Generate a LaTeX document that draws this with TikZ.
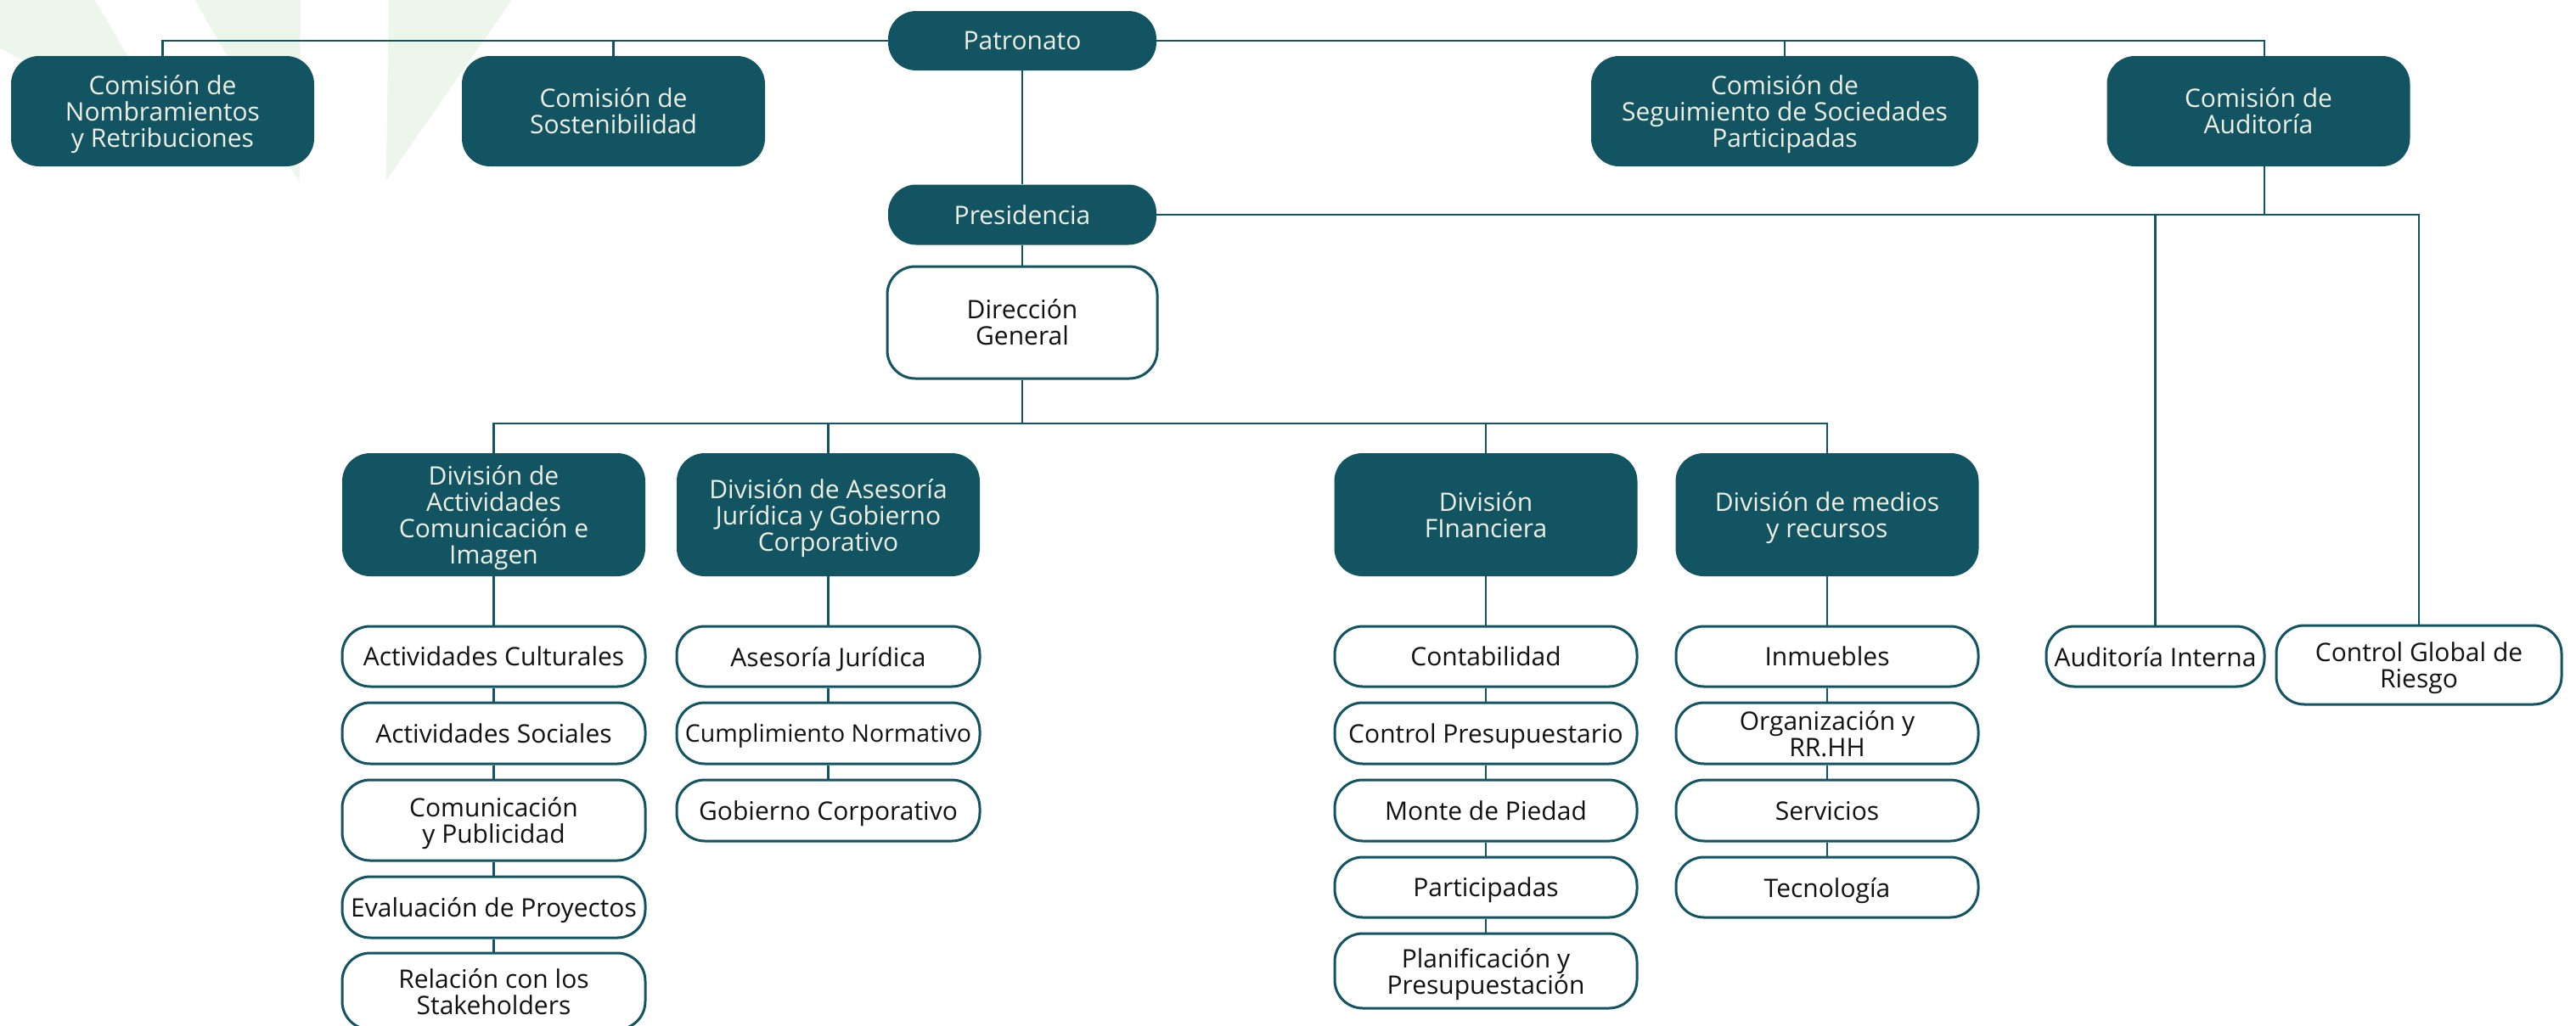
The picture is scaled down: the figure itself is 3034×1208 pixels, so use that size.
\documentclass[tikz,border=0pt]{standalone}
\usepackage{fontspec}
\setmainfont{Open Sans}
\definecolor{teal1}{RGB}{19,84,98}
\definecolor{cream}{RGB}{238,240,228}
\definecolor{ink}{RGB}{17,17,17}
\definecolor{leaf}{RGB}{236,246,235}
\begin{document}
\begin{tikzpicture}[x=1pt,y=-1pt,
  base/.style={rectangle, rounded corners=33pt, align=center, inner sep=0pt,
    text depth=-2pt, font=\fontsize{30}{31}\selectfont},
  dark/.style={base, fill=teal1, draw=none, text=cream},
  lite/.style={base, fill=white, draw=teal1, line width=3pt, text=ink},
  sz/.style 2 args={minimum width=#1pt, minimum height=#2pt},
  link/.style={draw=teal1, line width=2.8pt}]
\fill[white] (0,0) rectangle (3034,1208);
\useasboundingbox (0,0) rectangle (3034,1208);
% background leaves
\fill[leaf] (0,0) -- (111.6,0) -- (210,167) -- (0,57) -- cycle;
\fill[leaf] (229.6,0) -- (354,0) -- (352.7,215) -- cycle;
\fill[leaf] (458,0) -- (602.7,0) -- (454.7,213) -- cycle;
% top level
\node[dark, sz={316}{70}] (pat) at (1204,48) {Patronato};
\node[dark, sz={357}{130}] (nyr) at (191.5,131) {Comisión de\\Nombramientos\\y Retribuciones};
\node[dark, sz={357}{130}] (sost) at (722.5,131) {Comisión de\\Sostenibilidad};
\node[dark, sz={456}{130}] (seg) at (2102,131) {Comisión de\\Seguimiento de Sociedades\\Participadas};
\node[dark, sz={357}{130}] (aud) at (2660,131) {Comisión de\\Auditoría};
\node[dark, sz={316}{71}] (pres) at (1204,253) {Presidencia};
\node[lite, sz={318}{132}] (dg) at (1204,380) {Dirección\\General};
% divisions
\node[dark, sz={357}{145}] (d1) at (581.5,606.5) {División de\\Actividades\\Comunicación e\\Imagen};
\node[dark, sz={357}{145}] (d2) at (975.5,606.5) {División de Asesoría\\Jurídica y Gobierno\\Corporativo};
\node[dark, sz={357}{145}] (d3) at (1750,606.5) {División\\FInanciera};
\node[dark, sz={357}{145}] (d4) at (2152,606.5) {División de medios\\y recursos};
% column 1
\node[lite, sz={357}{71}] (a1) at (581.5,773.5) {Actividades Culturales};
\node[lite, sz={357}{72}] (a2) at (581.5,864) {Actividades Sociales};
\node[lite, sz={357}{95}] (a3) at (581.5,966.5) {Comunicación\\y Publicidad};
\node[lite, sz={357}{72}] (a4) at (581.5,1069) {Evaluación de Proyectos};
\node[lite, sz={357}{90}] (a5) at (581.5,1168) {Relación con los\\Stakeholders};
% column 2
\node[lite, sz={357}{71}] (b1) at (975.5,773.5) {Asesoría Jurídica};
\node[lite, sz={357}{72}, font=\fontsize{28.5}{31}\selectfont] (b2) at (975.5,864) {Cumplimiento Normativo};
\node[lite, sz={357}{72}] (b3) at (975.5,955) {Gobierno Corporativo};
% column 3
\node[lite, sz={356}{71}] (f1) at (1750,773.5) {Contabilidad};
\node[lite, sz={356}{72}] (f2) at (1750,864) {Control Presupuestario};
\node[lite, sz={356}{72}] (f3) at (1750,955) {Monte de Piedad};
\node[lite, sz={356}{71}] (f4) at (1750,1045.5) {Participadas};
\node[lite, sz={356}{88}] (f5) at (1750,1144) {Planificación y\\Presupuestación};
% column 4
\node[lite, sz={356}{71}] (m1) at (2152,773.5) {Inmuebles};
\node[lite, sz={356}{72}] (m2) at (2152,864) {Organización y\\RR.HH};
\node[lite, sz={356}{72}] (m3) at (2152,955) {Servicios};
\node[lite, sz={356}{71}] (m4) at (2152,1045.5) {Tecnología};
% audit children
\node[lite, sz={257}{71}] (ai) at (2538.5,773.5) {Auditoría Interna};
\node[lite, sz={336}{93}] (cg) at (2849,783.5) {Control Global de\\Riesgo};
% connectors
\coordinate (hub) at (1204,499);
\draw[link] (pat.west) -| (nyr.north);
\draw[link] (pat.west) -| (sost.north);
\draw[link] (pat.east) -| (seg.north);
\draw[link] (pat.east) -| ([xshift=7pt]aud.north);
\draw[link] (pat.south) -- (pres.north);
\draw[link] (pres.south) -- (dg.north);
\draw[link] (pres.east) -| (ai.north);
\draw[link] (pres.east) -| (cg.north);
\draw[link] ([xshift=7pt]aud.south) -- ([xshift=7pt]aud.south |- pres.east);
\draw[link] (dg.south) -- (hub);
\draw[link] (hub) -| (d1.north);
\draw[link] (hub) -| (d2.north);
\draw[link] (hub) -| (d3.north);
\draw[link] (hub) -| (d4.north);
\draw[link] (d1.south) -- (a1.north);
\draw[link] (a1.south) -- (a2.north);
\draw[link] (a2.south) -- (a3.north);
\draw[link] (a3.south) -- (a4.north);
\draw[link] (a4.south) -- (a5.north);
\draw[link] (d2.south) -- (b1.north);
\draw[link] (b1.south) -- (b2.north);
\draw[link] (b2.south) -- (b3.north);
\draw[link] (d3.south) -- (f1.north);
\draw[link] (f1.south) -- (f2.north);
\draw[link] (f2.south) -- (f3.north);
\draw[link] (f3.south) -- (f4.north);
\draw[link] (f4.south) -- (f5.north);
\draw[link] (d4.south) -- (m1.north);
\draw[link] (m1.south) -- (m2.north);
\draw[link] (m2.south) -- (m3.north);
\draw[link] (m3.south) -- (m4.north);
\end{tikzpicture}
\end{document}
